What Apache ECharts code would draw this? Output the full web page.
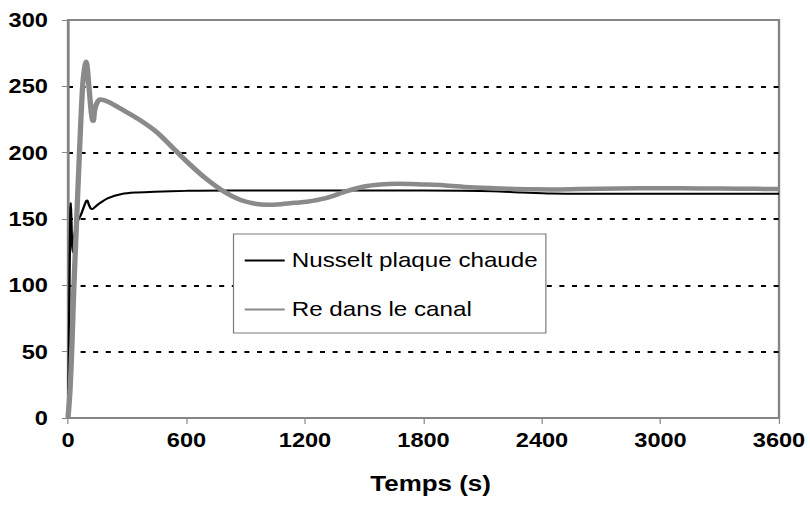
<!DOCTYPE html>
<html>
<head>
<meta charset="utf-8">
<title>Nusselt et Reynolds</title>
<script src="https://cdn.jsdelivr.net/npm/echarts@6/dist/echarts.min.js"></script>
<style>
  html, body { margin: 0; padding: 0; background: #fff; overflow: hidden; }
  #wrap { width: 810px; height: 512px; overflow: hidden; }
  #chart { height: 512px; transform-origin: 0 0; }
</style>
</head>
<body>
<div id="wrap"><div id="chart"></div></div>
<script>
// Time axis ticks (s) and value axis range
const timeTicks = [0, 600, 1200, 1800, 2400, 3000, 3600];
const valueTicks = [0, 50, 100, 150, 200, 250, 300];

// Nusselt number on the hot plate
const nuTime = [0, 4, 8, 12, 14, 17, 20, 24, 30, 40, 51, 65, 80, 92, 98, 105, 115, 123, 140, 162, 200, 272, 350, 440, 600, 800, 1200, 1600, 2000, 2150, 2300, 2450, 2700, 3000, 3300, 3600];
const nuValues = [0, 40, 110, 155, 162, 150, 134, 125, 135, 144, 149, 153, 159, 163.5, 164, 161, 158, 157.5, 159.5, 162, 165.5, 168.8, 170, 170.6, 171.2, 171.5, 171.5, 171.5, 171.3, 171, 170, 169.2, 169, 169, 169, 169];

// Reynolds number in the channel
const reTime = [0, 10, 20, 30, 44, 58, 74, 84, 91, 96, 102, 110, 118, 124, 128, 135, 145, 162, 200, 280, 360, 449, 542, 618, 702, 786, 871, 955, 1013, 1057, 1150, 1210, 1300, 1412, 1500, 1580, 1666, 1800, 1900, 2035, 2200, 2340, 2450, 2592, 2800, 3000, 3200, 3400, 3600];
const reValues = [0, 20, 55, 100, 150, 200, 250, 264, 268.5, 266, 257, 243, 230, 224.5, 224, 232, 237, 240, 238.5, 232, 225, 215.5, 202, 191, 180, 171, 164.5, 161.3, 160.8, 161, 162.3, 163, 165.5, 171, 174.5, 176, 176.5, 176, 175.5, 174, 173, 172.4, 172.3, 172.6, 173, 173.2, 173, 172.8, 172.6];

const seriesNames = ['Nusselt plaque chaude', 'Re dans le canal'];

// The figure's text is wider than plain Arial; draw narrower and widen the whole chart.
const SX = 1.18;
const W = 810 / SX;
const el = document.getElementById('chart');
el.style.width = W + 'px';
el.style.transform = 'scaleX(' + SX + ')';

const FONT = '"Liberation Sans", Arial, sans-serif';
const AXIS_GREY = '#858585';

const pair = (ts, vs) => ts.map((t, i) => [t, vs[i]]);

const chart = echarts.init(el, null, { renderer: 'svg', width: W, height: 512 });

chart.setOption({
  animation: false,
  backgroundColor: '#fff',
  grid: {
    left: 68 / SX,
    right: 31 / SX,
    top: 20,
    bottom: 94,
    show: true,
    borderColor: AXIS_GREY,
    borderWidth: 2,
    containLabel: false
  },
  legend: {
    orient: 'vertical',
    left: 233.5 / SX,
    top: 234,
    data: seriesNames,
    itemWidth: 40 / SX,
    itemHeight: 20,
    itemGap: 28,
    padding: [16, 8 / SX, 13, 10 / SX],
    backgroundColor: '#fff',
    borderColor: '#7a7a7a',
    borderWidth: 1,
    borderRadius: 0,
    itemStyle: { opacity: 0 },
    textStyle: { fontFamily: FONT, fontSize: 20.5, color: '#000', padding: [0, 0, 0, 1] }
  },
  xAxis: {
    type: 'value',
    min: timeTicks[0],
    max: timeTicks[timeTicks.length - 1],
    interval: timeTicks[1] - timeTicks[0],
    name: 'Temps (s)',
    nameLocation: 'middle',
    nameGap: 54,
    nameTextStyle: { fontFamily: FONT, fontSize: 22, fontWeight: 'bold', color: '#000', padding: [0, 0, 0, 12] },
    axisLine: { lineStyle: { color: AXIS_GREY, width: 2 } },
    axisTick: { show: true, inside: false, length: 6, lineStyle: { color: AXIS_GREY, width: 1 } },
    axisLabel: {
      fontFamily: FONT, fontSize: 20, fontWeight: 'bold', color: '#000', margin: 12,
      formatter: v => String(v)
    },
    splitLine: { show: false }
  },
  yAxis: {
    type: 'value',
    min: valueTicks[0],
    max: valueTicks[valueTicks.length - 1],
    interval: valueTicks[1] - valueTicks[0],
    axisLine: { show: true, lineStyle: { color: AXIS_GREY, width: 2 } },
    axisTick: { show: true, inside: false, length: 6 / SX, lineStyle: { color: AXIS_GREY, width: 1 } },
    axisLabel: {
      fontFamily: FONT, fontSize: 20, fontWeight: 'bold', color: '#000', margin: 17,
      formatter: v => String(v)
    },
    splitLine: {
      show: true,
      showMinLine: false,
      showMaxLine: false,
      lineStyle: { color: '#000', width: 2, type: [5 / SX, 7.6 / SX] }
    }
  },
  series: [
    {
      name: seriesNames[0],
      type: 'line',
      data: pair(nuTime, nuValues),
      showSymbol: false,
      symbol: 'none',
      smooth: 0.3,
      lineStyle: { color: '#000', width: 2 },
      itemStyle: { color: '#000' },
      z: 3
    },
    {
      name: seriesNames[1],
      type: 'line',
      data: pair(reTime, reValues),
      showSymbol: false,
      symbol: 'none',
      smooth: 0.3,
      lineStyle: { color: '#8a8a8a', width: 4.5 },
      itemStyle: { color: '#8a8a8a' },
      z: 4
    }
  ]
});
</script>
</body>
</html>
